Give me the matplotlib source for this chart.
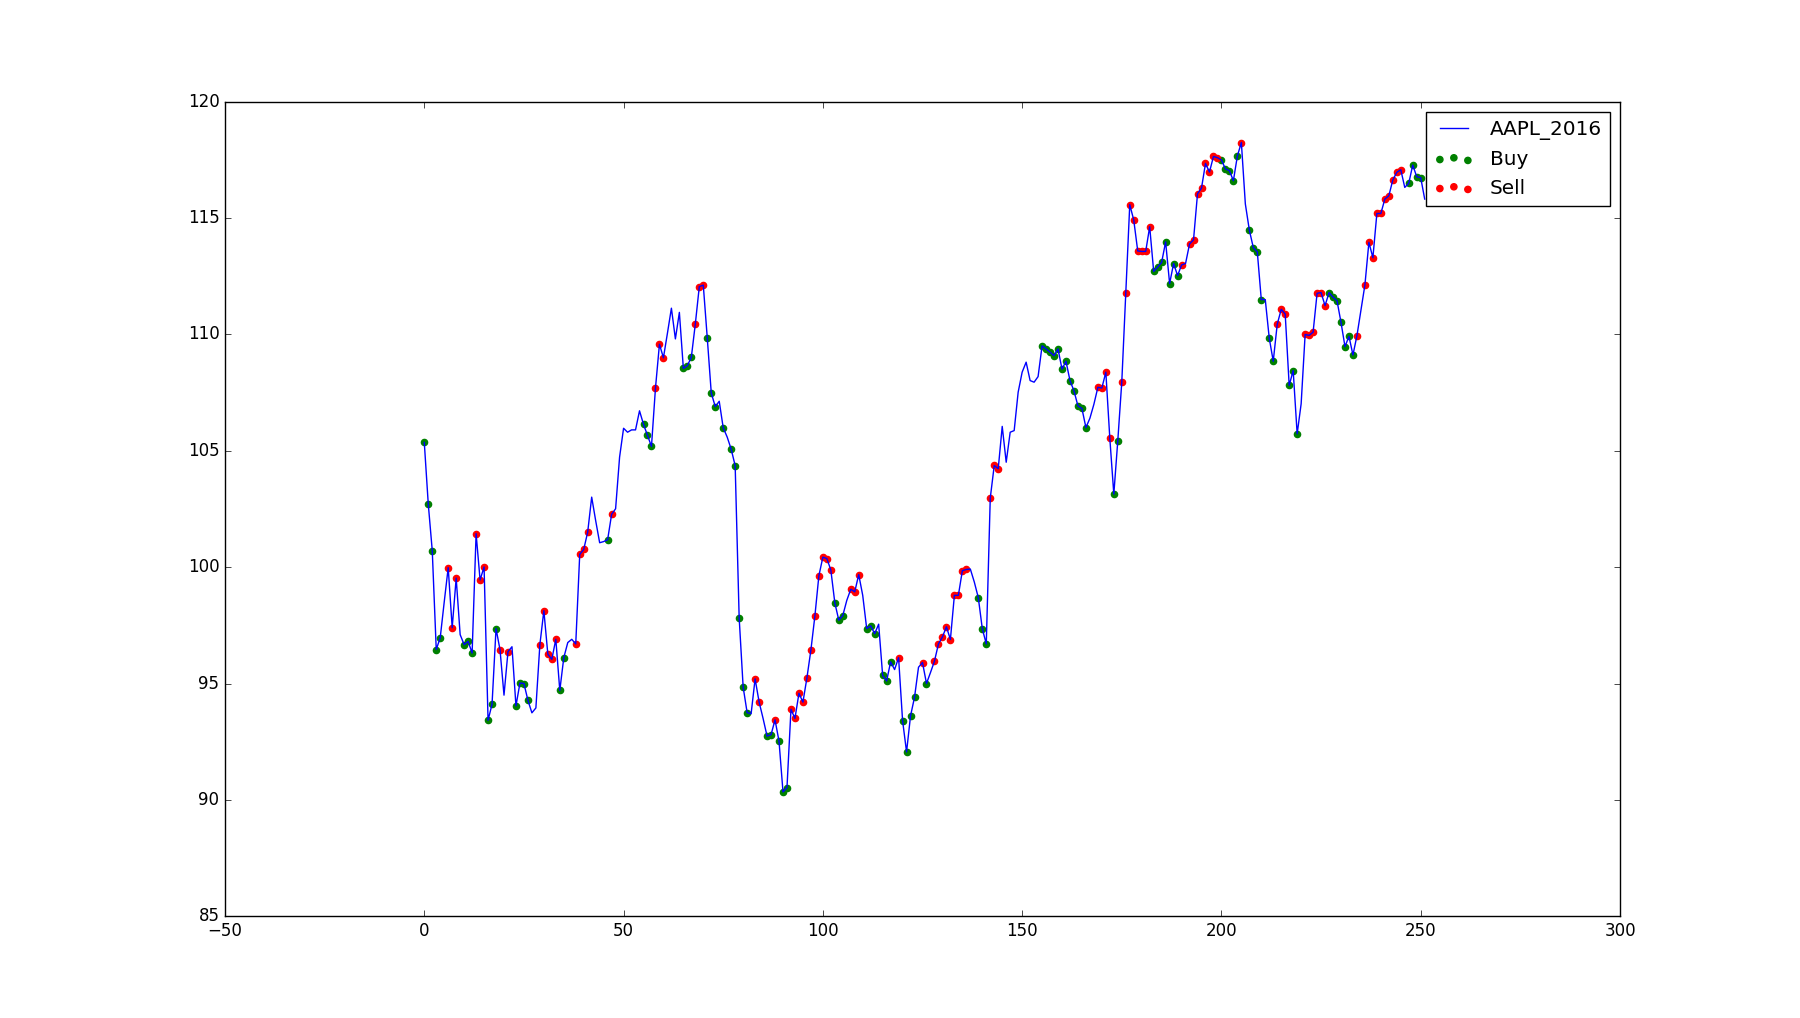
import matplotlib
matplotlib.use('Agg')
import matplotlib.pyplot as plt
import numpy as np

# daily closing prices (day 0 .. 251)
prices = [
    105.36, 102.71, 100.71, 96.46, 96.97, 98.50, 99.98, 97.40, 99.53, 97.10,
    96.67, 96.81, 96.31, 101.44, 99.45, 100.01, 93.42, 94.11, 97.36, 96.45,
    94.50, 96.37, 96.58, 94.04, 95.02, 95.00, 94.28, 93.74, 93.95, 96.67,
    98.13, 96.26, 96.04, 96.90, 94.70, 96.11, 96.76, 96.90, 96.70, 100.55,
    100.76, 101.51, 103.01, 102.00, 101.05, 101.10, 101.18, 102.27, 102.51, 104.73,
    105.97, 105.80, 105.90, 105.90, 106.72, 106.14, 105.67, 105.19, 107.69, 109.58,
    109.00, 110.05, 111.13, 109.81, 110.95, 108.54, 108.66, 109.02, 110.45, 112.06,
    112.12, 109.85, 107.49, 106.90, 107.13, 105.99, 105.59, 105.07, 104.36, 97.83,
    94.85, 93.75, 93.70, 95.20, 94.21, 93.50, 92.74, 92.80, 93.44, 92.52,
    90.34, 90.53, 93.89, 93.50, 94.58, 94.20, 95.24, 96.44, 97.90, 99.63,
    100.43, 100.37, 99.88, 98.47, 97.72, 97.92, 98.57, 99.05, 98.94, 99.68,
    98.79, 97.36, 97.48, 97.14, 97.55, 95.35, 95.11, 95.93, 95.60, 96.11,
    93.41, 92.06, 93.61, 94.41, 95.70, 95.90, 95.00, 95.47, 95.96, 96.70,
    97.00, 97.44, 96.89, 98.79, 98.79, 99.85, 99.90, 99.92, 99.36, 98.69,
    97.36, 96.70, 102.97, 104.37, 104.23, 106.05, 104.51, 105.80, 105.87, 107.52,
    108.38, 108.81, 108.02, 107.95, 108.19, 109.51, 109.38, 109.24, 109.09, 109.38,
    108.51, 108.85, 108.02, 107.58, 106.93, 106.82, 106.00, 106.40, 107.00, 107.73,
    107.70, 108.38, 105.53, 103.14, 105.44, 107.96, 111.79, 115.58, 114.92, 113.59,
    113.57, 113.57, 114.63, 112.71, 112.90, 113.10, 113.98, 112.19, 113.05, 112.53,
    112.99, 113.05, 113.89, 114.07, 116.05, 116.29, 117.35, 116.98, 117.65, 117.60,
    117.50, 117.12, 117.04, 116.61, 117.67, 118.25, 115.61, 114.49, 113.73, 113.55,
    111.50, 111.50, 109.84, 108.85, 110.44, 111.08, 110.88, 107.81, 108.45, 105.73,
    107.02, 110.00, 109.96, 110.10, 111.77, 111.80, 111.24, 111.80, 111.60, 111.45,
    110.52, 109.48, 109.92, 109.12, 109.95, 111.03, 112.13, 113.96, 113.30, 115.20,
    115.20, 115.82, 115.96, 116.64, 116.97, 117.08, 116.32, 116.50, 117.28, 116.78,
    116.74, 115.82,
]

buy_days = [
    0, 1, 2, 3, 4, 10, 11, 12, 16, 17, 18, 23, 24, 25, 26, 34, 35, 46, 55, 56,
    57, 65, 66, 67, 71, 72, 73, 75, 77, 78, 79, 80, 81, 86, 87, 89, 90, 91, 103,
    104, 105, 111, 112, 113, 115, 116, 117, 120, 121, 122, 123, 126, 139, 140, 141,
    155, 156, 157, 158, 159, 160, 161, 162, 163, 164, 165, 166, 173, 174, 183, 184,
    185, 186, 187, 188, 189, 200, 201, 202, 203, 204, 207, 208, 209, 210, 212, 213,
    217, 218, 219, 227, 228, 229, 230, 231, 232, 233, 247, 248, 249, 250,
]

sell_days = [
    6, 7, 8, 13, 14, 15, 19, 21, 29, 30, 31, 32, 33, 38, 39, 40, 41, 47, 58, 59,
    60, 68, 69, 70, 83, 84, 88, 92, 93, 94, 95, 96, 97, 98, 99, 100, 101, 102, 107,
    108, 109, 119, 125, 128, 129, 130, 131, 132, 133, 134, 135, 136, 142, 143, 144,
    169, 170, 171, 172, 175, 176, 177, 178, 179, 180, 181, 182, 190, 192, 193, 194,
    195, 196, 197, 198, 199, 205, 214, 215, 216, 221, 222, 223, 224, 225, 226, 234,
    236, 237, 238, 239, 240, 241, 242, 243, 244, 245,
]

plt.style.use('classic')

days = np.arange(len(prices))
prices = np.array(prices)

fig = plt.figure(figsize=(18, 10.18), dpi=100)
ax = fig.add_subplot(111)

# price line, then the trade signals on top of it
ax.plot(days, prices, 'b-', label='AAPL_2016')
ax.scatter(buy_days, prices[buy_days], color='g', edgecolors='g', s=20, label='Buy')
ax.scatter(sell_days, prices[sell_days], color='r', edgecolors='r', s=20, label='Sell')

ax.set_xlim(-50, 300)
ax.set_ylim(85, 120)
ax.legend(loc='upper right')

fig.savefig('out.png', dpi=100, facecolor='w')
